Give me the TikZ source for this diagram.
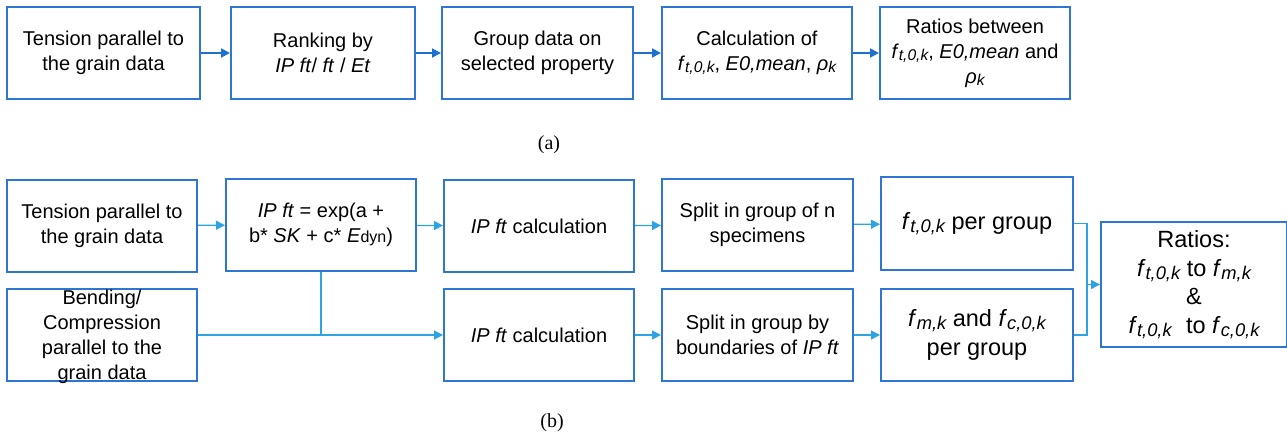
\documentclass[tikz,border=0pt]{standalone}
\usepackage{fontspec}
\setmainfont{Liberation Sans}
\newfontfamily\capfont{Liberation Serif}
\usetikzlibrary{arrows.meta}
\definecolor{boxblue}{RGB}{47,117,212}
\definecolor{darkarrow}{RGB}{30,112,208}
\definecolor{lightarrow}{RGB}{45,163,228}
\newcommand{\lsub}[1]{\raisebox{-0.12em}{\scalebox{0.78}{\itshape #1}}}
\begin{document}
\begin{tikzpicture}[x=1pt,y=-1pt,
  box/.style={draw=boxblue,line width=2pt,fill=white,inner sep=0pt,align=center,
              font=\fontsize{20}{25}\selectfont,minimum height=92pt},
  bigtext/.style={font=\fontsize{23.5}{28.5}\selectfont},
  toparrow/.style={draw=darkarrow,line width=1.8pt,-{Triangle[length=9pt,width=9pt]}},
  botline/.style={draw=lightarrow,line width=1.3pt},
  botarrow/.style={botline,-{Triangle[length=9pt,width=9pt]}},
  captext/.style={font=\capfont\fontsize{20}{24}\selectfont}]
\useasboundingbox (0,0) rectangle (1287,437);

% ---------- (a) ----------
\node[box,minimum width=193pt] (a1) at (103.5,53) {Tension parallel to\\the grain data};
\node[box,minimum width=184pt] (a2) at (323,53) {Ranking by\\\textit{IP ft}/ \textit{ft} / \textit{Et}};
\node[box,minimum width=191pt] (a3) at (537.5,53) {Group data on\\selected property};
\node[box,minimum width=190pt] (a4) at (757,53) {Calculation of\\\textit{f}\lsub{t,0,k}, \textit{E0,mean}, \textit{ρ}\lsub{k}};
\node[box,minimum width=190pt] (a5) at (975,53) {Ratios between\\\textit{f}\lsub{t,0,k}, \textit{E0,mean} and\\\textit{ρ}\lsub{k}};

\draw[toparrow] (a1) -- (a2);
\draw[toparrow] (a2) -- (a3);
\draw[toparrow] (a3) -- (a4);
\draw[toparrow] (a4) -- (a5);

\node[captext] (capa) at (549,145) {(a)};

% ---------- (b) ----------
\node[box,minimum width=190pt] (b1) at (102,225.5) {Tension parallel to\\the grain data};
\node[box,minimum width=190pt] (b2) at (321,225) {\textit{IP ft} = exp(a +\\b* \textit{SK} + c* \textit{E}{\fontsize{16}{16}\selectfont dyn})};
\node[box,minimum width=190pt] (b3) at (539,226) {\textit{IP ft} calculation};
\node[box,minimum width=190pt] (b4) at (102,335) {};
\node[font=\fontsize{20}{25}\selectfont,align=center,inner sep=0pt] (b4t) at (102,337) {Bending/\\Compression\\parallel to the\\grain data};
\node[box,minimum width=190pt] (b5) at (539,335) {\textit{IP ft} calculation};
\node[box,minimum width=191pt] (b6) at (757.5,225) {Split in group of n\\specimens};
\node[box,minimum width=191pt] (b7) at (757.5,335) {Split in group by\\boundaries of \textit{IP ft}};
\node[box,bigtext,minimum width=192pt,minimum height=93pt] (b8) at (977,223.5) {\textit{f}\lsub{t,0,k} per group};
\node[box,bigtext,minimum width=192pt] (b9) at (977,335) {\textit{f}\lsub{m,k} and \textit{f}\lsub{c,0,k}\\per group};
\node[box,bigtext,minimum width=186pt,minimum height=125pt] (b10) at (1194,284.5) {Ratios:\\\textit{f}\lsub{t,0,k} to \textit{f}\lsub{m,k}\\\&\\\textit{f}\lsub{t,0,k}\,\, to \textit{f}\lsub{c,0,k}};

\draw[botarrow] (b1) -- (b2);
\draw[botarrow] (b2) -- (b3);
\draw[botarrow] (b3) -- (b6);
\draw[botarrow] (b6) -- (b8);
\draw[botarrow] (b4) -- (b5);
\draw[botline] (b2.south) -- (b2.south |- b5.west);
\draw[botarrow] (b5) -- (b7);
\draw[botarrow] (b7) -- (b9);

\coordinate (m) at (1087,284.5);
\draw[botline] (b8.east) -| (m);
\draw[botline] (b9.east) -| (m);
\draw[botarrow] (m) -- (b10.west);

\node[captext] (capb) at (552,423) {(b)};
\end{tikzpicture}
\end{document}
